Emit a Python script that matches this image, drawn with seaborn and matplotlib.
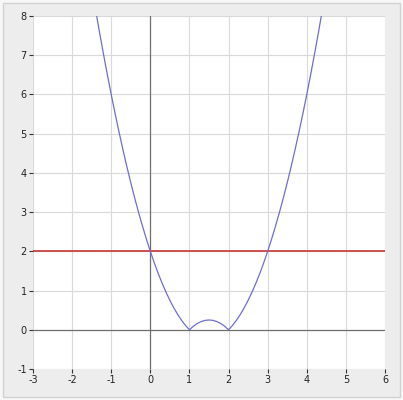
import numpy as np
import matplotlib
matplotlib.use('Agg')
import matplotlib.pyplot as plt
import seaborn as sns
from matplotlib.patches import Rectangle

sns.set_theme(style="white")
plt.rcParams['font.family'] = ['DejaVu Sans']
plt.rcParams['axes.unicode_minus'] = False

# curve |x^2 - 3x + 2|
curve_x = [-1.4, -1.3, -1.2, -1.1, -1.0, -0.9, -0.8, -0.7, -0.6, -0.5,
           -0.4, -0.3, -0.2, -0.1, 0.0, 0.1, 0.2, 0.3, 0.4, 0.5,
           0.6, 0.7, 0.8, 0.9, 1.0, 1.1, 1.2, 1.3, 1.4, 1.5,
           1.6, 1.7, 1.8, 1.9, 2.0, 2.1, 2.2, 2.3, 2.4, 2.5,
           2.6, 2.7, 2.8, 2.9, 3.0, 3.1, 3.2, 3.3, 3.4, 3.5,
           3.6, 3.7, 3.8, 3.9, 4.0, 4.1, 4.2, 4.3, 4.4]
curve_y = [8.16, 7.59, 7.04, 6.51, 6.0, 5.51, 5.04, 4.59, 4.16, 3.75,
           3.36, 2.99, 2.64, 2.31, 2.0, 1.71, 1.44, 1.19, 0.96, 0.75,
           0.56, 0.39, 0.24, 0.11, 0.0, 0.09, 0.16, 0.21, 0.24, 0.25,
           0.24, 0.21, 0.16, 0.09, 0.0, 0.11, 0.24, 0.39, 0.56, 0.75,
           0.96, 1.19, 1.44, 1.71, 2.0, 2.31, 2.64, 2.99, 3.36, 3.75,
           4.16, 4.59, 5.04, 5.51, 6.0, 6.51, 7.04, 7.59, 8.16]

# horizontal line y = 2
line_x = [-3, 6]
line_y = [2, 2]

x_ticks = [-3, -2, -1, 0, 1, 2, 3, 4, 5, 6]
y_ticks = [-1, 0, 1, 2, 3, 4, 5, 6, 7, 8]

fig = plt.figure(figsize=(4.03, 4.00), dpi=100)
fig.patch.set_facecolor('#f7f7f7')
frame = Rectangle((3 / 403, 3 / 400), 397 / 403, 394 / 400,
                  transform=fig.transFigure, facecolor='#ededed',
                  edgecolor='#d2d2d2', linewidth=1, zorder=-10)
fig.add_artist(frame)
ax = fig.add_axes([33 / 403, 31 / 400, 352 / 403, 353 / 400])
ax.set_zorder(1)
ax.set_facecolor('white')

ax.set_xlim(-3, 6)
ax.set_ylim(-1, 8)
ax.set_xticks(x_ticks)
ax.set_yticks(y_ticks)
ax.grid(True, color='#d9d9d9', linewidth=0.8)
ax.set_axisbelow(True)

ax.axhline(0, color='#707070', linewidth=0.9, zorder=1)
ax.axvline(0, color='#707070', linewidth=0.9, zorder=1)

sns.lineplot(x=line_x, y=line_y, ax=ax, color='#cc3333', linewidth=1.2, zorder=3)
sns.lineplot(x=curve_x, y=curve_y, ax=ax, sort=False, color='#6e6ecf',
             linewidth=0.9, zorder=4)

for s in ax.spines.values():
    s.set_visible(False)
ax.tick_params(axis='both', which='both', direction='out', length=3, width=0.8,
               color='#333333', labelsize=7, labelcolor='#222222', pad=1.5,
               left=True, bottom=True)
ax.set_xlabel('')
ax.set_ylabel('')

fig.savefig('out.png', dpi=100, facecolor=fig.get_facecolor())
